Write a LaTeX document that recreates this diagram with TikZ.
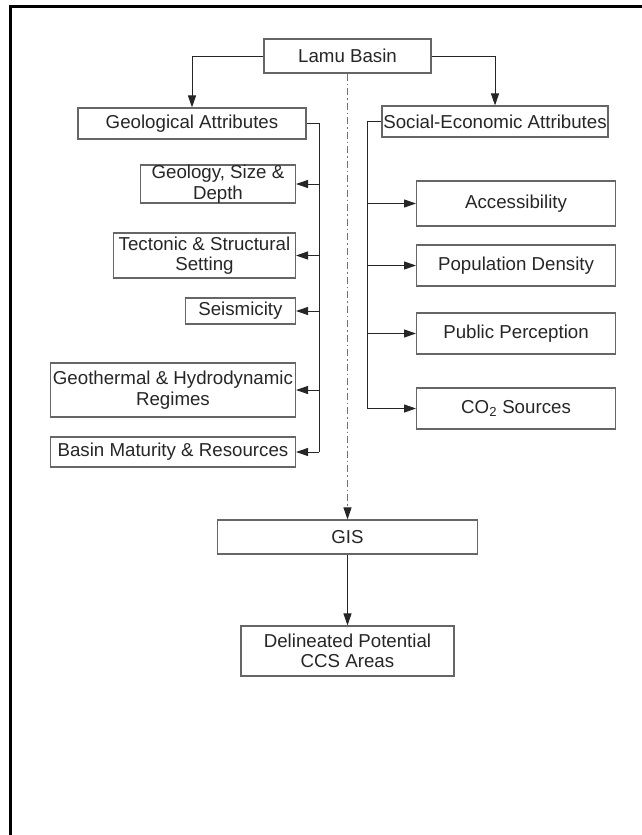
\documentclass[tikz,border=0pt]{standalone}
\usepackage{fontspec}
\setmainfont{Liberation Sans}
\usetikzlibrary{arrows.meta}

\begin{document}
\begin{tikzpicture}[x=1pt, y=-1pt,
    box/.style={draw=black!60, line width=1.1pt, inner sep=0pt, align=center,
        text=black!85, font=\fontsize{18.7}{20.5}\selectfont},
    link/.style={line width=1pt, draw=black!85},
    >={Triangle[length=12pt, width=8pt]}]
    \useasboundingbox (0,0) rectangle (642,835);

    % Frame
    \draw[line width=3pt] (10,835) -- (10,6) -- (642,6);

    % Top row
    \node[box, minimum width=167, minimum height=34] (LB) at (347.5,56) {Lamu Basin};
    \node[box, minimum width=228, minimum height=31] (GA) at (192,123.5) {Geological Attributes};
    \node[box, minimum width=226, minimum height=31] (SA) at (495,121.5) {Social-Economic Attributes};

    % Geological attributes
    \node[box, anchor=east, minimum width=155, minimum height=38] (G1) at (296,184) {Geology, Size \&\\Depth};
    \node[box, anchor=east, minimum width=182, minimum height=45] (G2) at (296,255.5) {Tectonic \& Structural\\Setting};
    \node[box, anchor=east, minimum width=110, minimum height=26] (G3) at (296,311) {Seismicity};
    \node[box, anchor=east, minimum width=245, minimum height=54] (G4) at (296,390) {Geothermal \& Hydrodynamic\\Regimes};
    \node[box, anchor=east, minimum width=245, minimum height=30] (G5) at (296,452) {Basin Maturity \& Resources};

    % Social-economic attributes
    \node[box, anchor=west, minimum width=199, minimum height=45] (S1) at (416,203.5) {Accessibility};
    \node[box, anchor=west, minimum width=199, minimum height=41] (S2) at (416,265.5) {Population Density};
    \node[box, anchor=west, minimum width=199, minimum height=41] (S3) at (416,333.5) {Public Perception};
    \node[box, anchor=west, minimum width=199, minimum height=41] (S4) at (416,408.5) {CO\textsubscript{2} Sources};

    % Bottom
    \node[box, minimum width=260, minimum height=34] (GIS) at (347.5,537) {GIS};
    \node[box, minimum width=213, minimum height=50] (CCS) at (347.5,651) {Delineated Potential\\CCS Areas};

    % Links
    \coordinate (GT) at (319,0);
    \coordinate (ST) at (367,0);
    \draw[link, ->] (LB.west) -| (GA.north);
    \draw[link, ->] (LB.east) -| (SA.north);
    \draw[link] (GA.east) -| (GT |- G5.east);
    \foreach \n in {G1,G2,G3,G4,G5}
        \draw[link, ->] (GT |- \n.east) -- (\n.east);
    \draw[link] (SA.west) -| (ST |- S4.west);
    \foreach \n in {S1,S2,S3,S4}
        \draw[link, ->] (ST |- \n.west) -- (\n.west);
    \draw[link, draw=black!55, dash pattern=on 7pt off 3pt on 1.5pt off 3pt,
        -{Triangle[length=12pt, width=8pt, color=black!85]}] (LB.south) -- (GIS.north);
    \draw[link, ->] (GIS) -- (CCS);

\end{tikzpicture}
\end{document}
